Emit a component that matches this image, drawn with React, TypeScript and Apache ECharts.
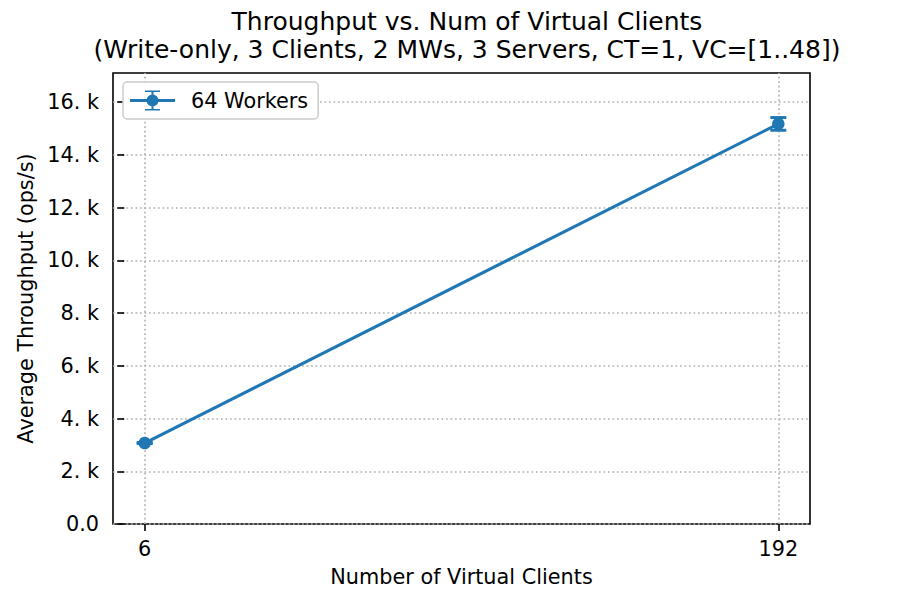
import React, { useEffect, useRef } from "react";
import * as echarts from "echarts";

const seriesName = "64 Workers";
const xValues = [6, 192];
const yValues = [3070, 15170];
const yErrors = [20, 240];
const xTicks = [6, 192];
const yTicks = [0, 2000, 4000, 6000, 8000, 10000, 12000, 14000, 16000];

const COLOR = "#1f77b4";
const FONT = "DejaVu Sans";

const legendIcon =
  "path://M0 8.5H45V11.5H0Z M21.5 0H23.5V20H21.5Z M15 0H30V1.5H15Z M15 18.5H30V20H15Z M22.5 4A6 6 0 1 1 22.5 16A6 6 0 1 1 22.5 4Z";

export default function App() {
  const ref = useRef<HTMLDivElement>(null);
  useEffect(() => {
    if (!ref.current) return;
    const chart = echarts.init(ref.current, undefined, { renderer: "svg" });
    const lineData = xValues.map((x, i) => [x, yValues[i]]);
    const errData = xValues.map((x, i) => [x, yValues[i] - yErrors[i], yValues[i] + yErrors[i]]);
    const gridLine = { color: "#b0b0b0", width: 1.6, type: [1.7, 2.8] as number[] };
    chart.setOption({
      animation: false,
      backgroundColor: "#fff",
      textStyle: { fontFamily: FONT },
      title: {
        text: "Throughput vs. Num of Virtual Clients\n(Write-only, 3 Clients, 2 MWs, 3 Servers, CT=1, VC=[1..48])",
        left: 462,
        top: 2,
        textAlign: "center",
        textStyle: { fontFamily: FONT, fontSize: 25, fontWeight: "normal", color: "#000", lineHeight: 28 },
      },
      legend: {
        left: 123,
        top: 82,
        orient: "vertical",
        padding: [8, 10, 8, 7],
        itemWidth: 45,
        itemHeight: 20,
        borderColor: "#cccccc",
        borderWidth: 1.5,
        borderRadius: 4,
        backgroundColor: "#fff",
        data: [{ name: seriesName, icon: legendIcon }],
        textStyle: { fontFamily: FONT, fontSize: 20.8, color: "#000", padding: [0, 0, 0, 11] },
      },
      grid: {
        left: 113,
        right: 90,
        top: 73,
        bottom: 76,
        show: true,
        borderColor: "#000",
        borderWidth: 1.6,
        containLabel: false,
      },
      xAxis: {
        type: "value",
        min: -3.3,
        max: 201.3,
        name: "Number of Virtual Clients",
        nameLocation: "middle",
        nameGap: 42,
        nameTextStyle: { fontFamily: FONT, fontSize: 20.8, color: "#000" },
        axisLine: { show: false },
        axisTick: { show: true, customValues: xTicks, length: 7, lineStyle: { color: "#000", width: 1.6 } },
        axisLabel: { customValues: xTicks, margin: 14, fontFamily: FONT, fontSize: 20.8, color: "#000" },
        splitLine: { show: false },
      },
      yAxis: {
        type: "value",
        min: 0,
        max: 17100,
        interval: 2000,
        name: "Average Throughput (ops/s)",
        nameLocation: "middle",
        nameGap: 71,
        nameTextStyle: { fontFamily: FONT, fontSize: 20.8, color: "#000" },
        axisLine: { show: false },
        axisTick: { show: true, customValues: yTicks, length: 7, lineStyle: { color: "#000", width: 1.6 } },
        axisLabel: {
          customValues: yTicks,
          margin: 14,
          fontFamily: FONT,
          fontSize: 20.8,
          color: "#000",
          formatter: (v: number) => (v === 0 ? "0.0" : `${v / 1000}. k`),
        },
        splitLine: { show: true, lineStyle: gridLine },
      },
      series: [
        {
          type: "custom",
          z: 2,
          silent: true,
          data: errData,
          encode: { x: 0, y: [1, 2] },
          renderItem: (params: any, api: any) => {
            const x = api.value(0);
            const lo = api.coord([x, api.value(1)]);
            const hi = api.coord([x, api.value(2)]);
            const hw = 8;
            const style = { stroke: COLOR, lineWidth: 3 };
            return {
              type: "group",
              children: [
                { type: "line", shape: { x1: lo[0], y1: lo[1], x2: hi[0], y2: hi[1] }, style },
                { type: "line", shape: { x1: lo[0] - hw, y1: lo[1], x2: lo[0] + hw, y2: lo[1] }, style },
                { type: "line", shape: { x1: hi[0] - hw, y1: hi[1], x2: hi[0] + hw, y2: hi[1] }, style },
              ],
            };
          },
        },
        {
          name: seriesName,
          type: "line",
          z: 3,
          data: lineData,
          symbol: "circle",
          symbolSize: 12.5,
          itemStyle: { color: COLOR },
          lineStyle: { color: COLOR, width: 3.1 },
          markLine: {
            silent: true,
            symbol: "none",
            z: 1,
            label: { show: false },
            lineStyle: gridLine,
            data: xTicks.map((v) => ({ xAxis: v })),
          },
        },
      ],
    });
    return () => chart.dispose();
  }, []);
  return <div ref={ref} style={{ position: "absolute", left: 0, top: 0, width: 900, height: 600 }} />;
}
